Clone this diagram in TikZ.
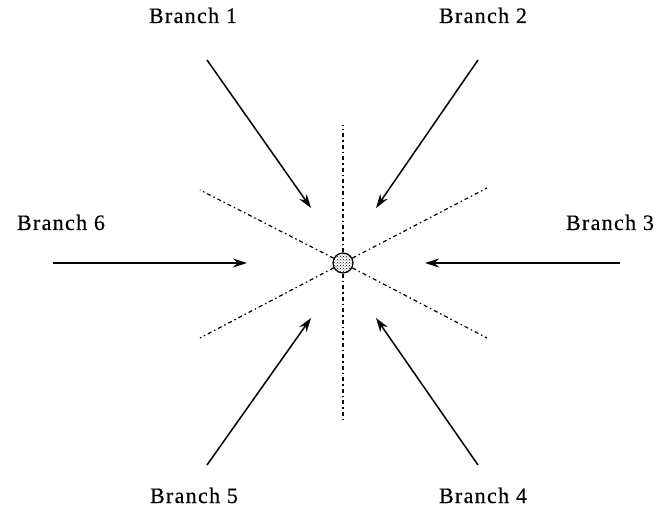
\documentclass[tikz,border=0pt]{standalone}
\usepackage{fontspec}
\setmainfont{Liberation Serif}
\newfontfamily\labelfont[LetterSpace=6,FakeBold=0.5]{Liberation Serif}
\usetikzlibrary{arrows.meta,patterns}

\begin{document}
\begin{tikzpicture}[x=1pt,y=-1pt,>={Stealth[length=14pt,width=9pt]},
    branch/.style={anchor=base,inner sep=0pt,font=\labelfont\fontsize{22}{24}\selectfont},
    feed/.style={->,line width=1.5pt},
    axis/.style={line width=1.2pt,dash pattern=on 4pt off 3pt on 1.5pt off 3pt}]
  \useasboundingbox (0,0) rectangle (656,510);

  % the junction in the middle
  \node[circle,draw,line width=1.2pt,minimum size=20pt,inner sep=0pt,
        pattern=crosshatch dots] (hub) at (343,263) {};

  % dotted guide lines
  \coordinate (gn) at (343,125);
  \coordinate (gs) at (343,420);
  \coordinate (gnw) at (200,190);
  \coordinate (gne) at (487,188);
  \coordinate (gsw) at (200,338);
  \coordinate (gse) at (487,338);
  \foreach \g in {gn,gs,gnw,gne,gsw,gse}
    \draw[axis] (hub) -- (\g);

  % branch labels
  \node[branch] (b1) at (193,23) {Branch 1};
  \node[branch] (b2) at (483,23) {Branch 2};
  \node[branch] (b3) at (610,230) {Branch 3};
  \node[branch] (b4) at (483,503) {Branch 4};
  \node[branch] (b5) at (194,503) {Branch 5};
  \node[branch] (b6) at (61,230) {Branch 6};

  % incoming flows
  \coordinate (s1) at (207,60);   \coordinate (e1) at (311,208);
  \coordinate (s2) at (478,60);   \coordinate (e2) at (376,208);
  \coordinate (s3) at (620,263);  \coordinate (e3) at (425,263);
  \coordinate (s4) at (478,465);  \coordinate (e4) at (376,318);
  \coordinate (s5) at (207,465);  \coordinate (e5) at (311,318);
  \coordinate (s6) at (53,263);   \coordinate (e6) at (247,263);
  \foreach \i in {1,...,6}
    \draw[feed] (s\i) -- (e\i);
\end{tikzpicture}
\end{document}
